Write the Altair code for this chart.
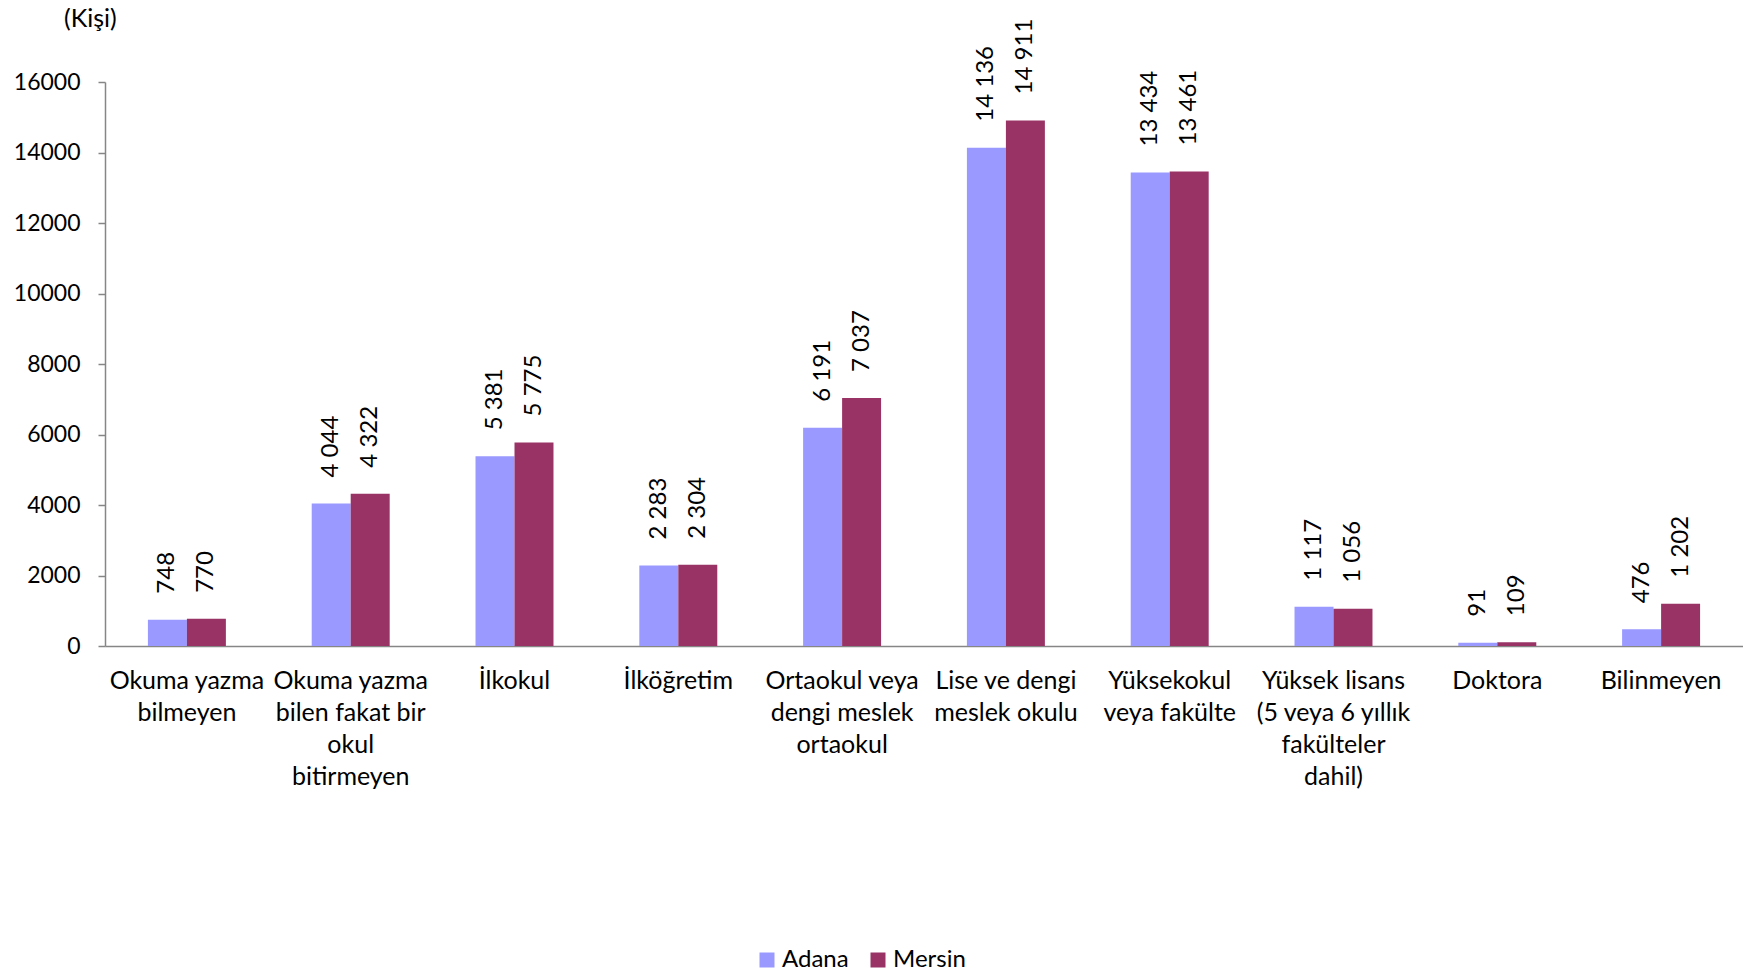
import altair as alt
import pandas as pd

categories = [
    "Okuma yazma|bilmeyen",
    "Okuma yazma|bilen fakat bir|okul|bitirmeyen",
    "İlkokul",
    "İlköğretim",
    "Ortaokul veya|dengi meslek|ortaokul",
    "Lise ve dengi|meslek okulu",
    "Yüksekokul|veya fakülte",
    "Yüksek lisans|(5 veya 6 yıllık|fakülteler|dahil)",
    "Doktora",
    "Bilinmeyen",
]
adana = [748, 4044, 5381, 2283, 6191, 14136, 13434, 1117, 91, 476]
mersin = [770, 4322, 5775, 2304, 7037, 14911, 13461, 1056, 109, 1202]
series = ["Adana", "Mersin"]
colors = ["#9999FF", "#993366"]
y_ticks = [0, 2000, 4000, 6000, 8000, 10000, 12000, 14000, 16000]
unit_label = "(Kişi)"

rows = []
for c, a, m in zip(categories, adana, mersin):
    rows.append({"cat": c, "series": "Adana", "value": a})
    rows.append({"cat": c, "series": "Mersin", "value": m})
df = pd.DataFrame(rows)

FONT = "Lato"
AXIS_GRAY = "#868686"

x_enc = alt.X(
    "cat:N",
    sort=categories,
    scale=alt.Scale(paddingInner=0.524, paddingOuter=0.262),
    axis=alt.Axis(
        title=None,
        labelAngle=0,
        labelExpr="split(datum.label, '|')",
        labelFontSize=25,
        labelLineHeight=32,
        labelPadding=22,
        labelBaseline="top",
        labelLimit=0,
        labelOverlap=False,
        labelBound=False,
        labelColor="black",
        ticks=False,
        grid=False,
        domainColor=AXIS_GRAY,
        domainWidth=1.5,
    ),
)
xoff_enc = alt.XOffset("series:N", sort=series, scale=alt.Scale(paddingInner=0, paddingOuter=0))
y_enc = alt.Y(
    "value:Q",
    scale=alt.Scale(domain=[0, 16000], nice=False),
    axis=alt.Axis(
        title=None,
        values=y_ticks,
        format="d",
        grid=False,
        labelFontSize=23,
        labelColor="black",
        labelPadding=18,
        tickSize=7,
        tickColor=AXIS_GRAY,
        domainColor=AXIS_GRAY,
        domainWidth=1.5,
        tickWidth=1.5,
    ),
)

base = alt.Chart(df)

bars = base.mark_bar().encode(
    x=x_enc,
    xOffset=xoff_enc,
    y=y_enc,
    color=alt.Color(
        "series:N",
        sort=series,
        scale=alt.Scale(domain=series, range=colors),
        legend=alt.Legend(
            title=None,
            orient="none",
            legendX=650,
            legendY=866,
            direction="horizontal",
            symbolType="square",
            symbolSize=225,
            symbolStrokeWidth=0,
            labelFontSize=24,
            labelOffset=3,
            columnPadding=17,
            labelColor="black",
        ),
    ),
)

labels = base.transform_calculate(
    label="replace(format(datum.value, ','), ',', ' ')"
).mark_text(
    angle=270, align="left", baseline="middle", dx=26, fontSize=24, color="black", font=FONT
).encode(
    x=alt.X("cat:N", sort=categories),
    xOffset=alt.XOffset("series:N", sort=series),
    y=alt.Y("value:Q"),
    text="label:N",
)

unit = alt.Chart(pd.DataFrame({"t": [unit_label]})).mark_text(
    align="left", baseline="middle", fontSize=25, color="black", font=FONT
).encode(x=alt.value(-41), y=alt.value(-63), text="t:N")

chart = (
    alt.layer(bars, labels, unit)
    .properties(
        width=1638,
        height=564,
        autosize=alt.AutoSizeParams(type="none"),
        padding={"left": 97, "top": 74, "right": 0, "bottom": 323},
    )
    .configure(font=FONT)
    .configure_view(stroke=None, strokeWidth=0)
)

chart.save("out.html", embed_options={"renderer": "svg", "actions": False})
